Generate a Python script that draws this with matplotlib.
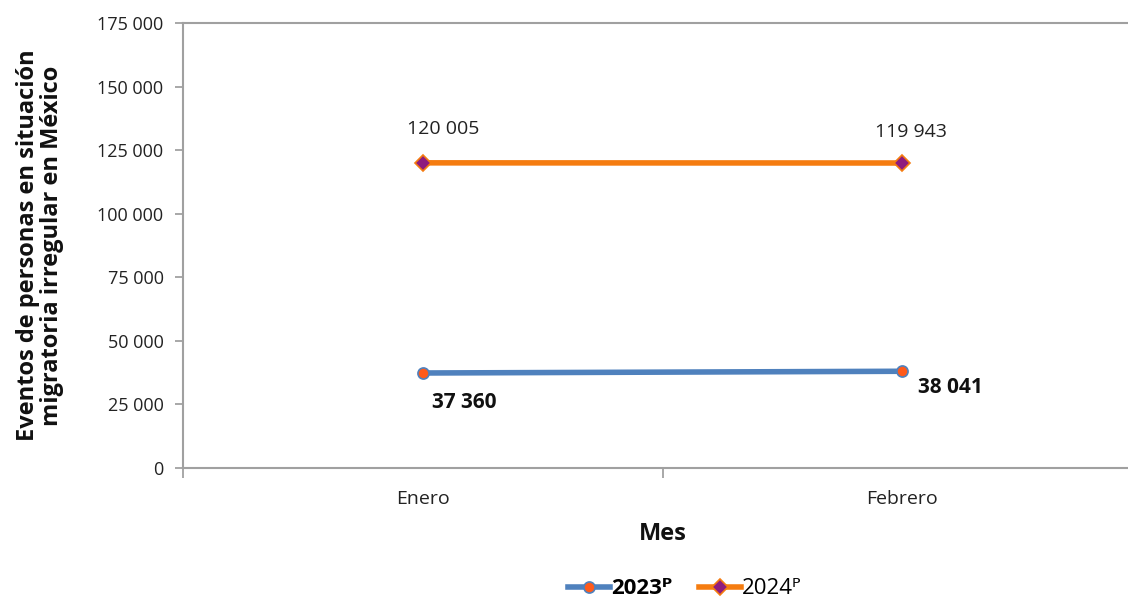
import matplotlib
matplotlib.use("Agg")
import matplotlib.pyplot as plt
from matplotlib.ticker import FuncFormatter, MultipleLocator

categories = ["Enero", "Febrero"]
series_2023 = [37360, 38041]
series_2024 = [120005, 119943]
labels_2023 = ["37 360", "38 041"]
labels_2024 = ["120 005", "119 943"]

plt.rcParams['font.family'] = ['Open Sans', 'DejaVu Sans']

W, H = 1128, 601
fig = plt.figure(figsize=(W / 100, H / 100), dpi=100)
ax = fig.add_axes([183 / W, 133 / H, (1142 - 183) / W, (468 - 23) / H])

x = [0.5, 1.5]
ax.plot(x, series_2023, color='#4F81BD', lw=4, marker='o', ms=8,
        mfc='#FF5A1A', mec='#4F81BD', mew=1.2, label='2023ᴾ', zorder=3)
ax.plot(x, series_2024, color='#F57C10', lw=4, marker='D', ms=8,
        mfc='#8E1B7E', mec='#F57C10', mew=1.2, label='2024ᴾ', zorder=3)

off24 = [(14.4, 24.5), (6.5, 22.3)]
for xi, v, t, o in zip(x, series_2024, labels_2024, off24):
    ax.annotate(t, (xi, v), xytext=o, textcoords='offset points',
                ha='center', va='center', fontsize=14, color='#222222')
off23 = [(30, -21), (35, -12)]
for xi, v, t, o in zip(x, series_2023, labels_2023, off23):
    ax.annotate(t, (xi, v), xytext=o, textcoords='offset points',
                ha='center', va='center', fontsize=15, fontweight='bold', color='#111111')

ax.set_xlim(0, 2)
ax.set_ylim(0, 175000)
ax.yaxis.set_major_locator(MultipleLocator(25000))
ax.yaxis.set_major_formatter(FuncFormatter(lambda v, p: f"{int(v):,}".replace(",", " ")))
ax.set_xticks([0, 1, 2])
ax.set_xticklabels([])
ax.set_xticks(x, minor=True)
ax.set_xticklabels(categories, minor=True)
ax.tick_params(axis='x', which='minor', length=0, pad=16, labelsize=14, labelcolor='#222222')
ax.tick_params(axis='x', which='major', length=7, color='#999999', width=1.2)
ax.tick_params(axis='y', length=6, color='#999999', width=1.2, labelsize=13, labelcolor='#222222', pad=8)

for s in ['left', 'bottom', 'top']:
    ax.spines[s].set_color('#a0a0a0')
    ax.spines[s].set_linewidth(1.5)
ax.spines['right'].set_visible(False)

ax.set_ylabel("Eventos de personas en situación\nmigratoria irregular en México",
              fontsize=17, fontweight='bold', color='#111111', labelpad=24, linespacing=1.0)
ax.set_xlabel("Mes", fontsize=17, fontweight='bold', color='#111111', labelpad=10)

leg = fig.legend(loc='center', bbox_to_anchor=(0.607, 1 - 589 / H), ncol=2, frameon=False,
                 fontsize=16, handlelength=1.9, columnspacing=1.2, handletextpad=0.05)
leg.get_texts()[0].set_fontweight('bold')

fig.savefig("out.png", dpi=100)
